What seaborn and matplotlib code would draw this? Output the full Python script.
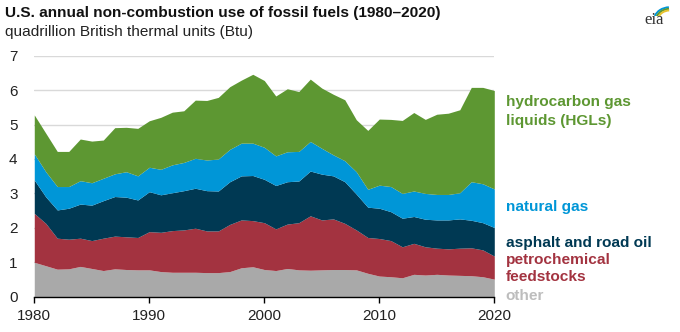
import numpy as np
import pandas as pd
import matplotlib
matplotlib.use("Agg")
import matplotlib.pyplot as plt
import seaborn as sns
from matplotlib.patches import Arc

years = list(range(1980, 2021))

other = [1.00, 0.90, 0.80, 0.81, 0.88, 0.82, 0.76, 0.81, 0.79, 0.78,
         0.78, 0.73, 0.71, 0.71, 0.71, 0.70, 0.70, 0.73, 0.84, 0.87,
         0.79, 0.76, 0.82, 0.78, 0.77, 0.78, 0.79, 0.79, 0.78, 0.68,
         0.60, 0.58, 0.55, 0.65, 0.63, 0.65, 0.63, 0.62, 0.61, 0.58, 0.51]
petrochemical = [1.42, 1.23, 0.90, 0.86, 0.82, 0.81, 0.94, 0.95, 0.95, 0.94,
                 1.11, 1.14, 1.21, 1.23, 1.28, 1.21, 1.21, 1.37, 1.39, 1.34,
                 1.36, 1.21, 1.29, 1.37, 1.58, 1.45, 1.47, 1.34, 1.16, 1.04,
                 1.09, 1.05, 0.90, 0.90, 0.82, 0.76, 0.76, 0.79, 0.81, 0.78, 0.67]
asphalt = [0.97, 0.77, 0.82, 0.90, 0.99, 1.03, 1.09, 1.15, 1.15, 1.09,
           1.16, 1.09, 1.10, 1.14, 1.16, 1.17, 1.16, 1.24, 1.28, 1.31,
           1.26, 1.26, 1.23, 1.21, 1.30, 1.33, 1.25, 1.21, 1.04, 0.88,
           0.88, 0.84, 0.83, 0.78, 0.80, 0.82, 0.84, 0.85, 0.80, 0.79, 0.83]
natural_gas = [0.76, 0.73, 0.68, 0.63, 0.68, 0.65, 0.65, 0.66, 0.74, 0.70,
               0.71, 0.74, 0.81, 0.82, 0.87, 0.89, 0.93, 0.94, 0.95, 0.94,
               0.93, 0.86, 0.87, 0.86, 0.86, 0.75, 0.61, 0.61, 0.65, 0.52,
               0.67, 0.73, 0.72, 0.74, 0.75, 0.74, 0.74, 0.76, 1.12, 1.13, 1.12]
hgl = [1.13, 1.12, 1.02, 1.02, 1.21, 1.21, 1.11, 1.34, 1.29, 1.38,
       1.35, 1.51, 1.53, 1.50, 1.69, 1.73, 1.79, 1.82, 1.83, 2.00,
       1.94, 1.74, 1.83, 1.74, 1.81, 1.75, 1.76, 1.77, 1.51, 1.71,
       1.92, 1.95, 2.12, 2.28, 2.15, 2.33, 2.36, 2.41, 2.74, 2.80, 2.86]

series_names = ["other", "petrochemical feedstocks", "asphalt and road oil",
                "natural gas", "hydrocarbon gas liquids (HGLs)"]
colors = ["#a9a9a9", "#a33340", "#003953", "#0096d7", "#5d9732"]
label_colors = ["#bdbdbd", "#a33340", "#003953", "#0096d7", "#5d9732"]

df = pd.DataFrame({"year": years, "other": other, "petro": petrochemical,
                   "asphalt": asphalt, "ng": natural_gas, "hgl": hgl})

sns.set_theme(style="white")
plt.rcParams["font.family"] = ["Liberation Sans", "DejaVu Sans"]

fig = plt.figure(figsize=(6.8, 3.32), dpi=100)
ax = fig.add_axes([0.0504, 0.1063, 0.6765, 0.7259])

ax.stackplot(df["year"], df["other"], df["petro"], df["asphalt"], df["ng"], df["hgl"],
             colors=colors, linewidth=0)

ax.set_xlim(1980, 2020)
ax.set_ylim(0, 7)
ax.set_yticks(range(0, 8))
ax.set_xticks(range(1980, 2021, 10))
for y in range(1, 8):
    ax.axhline(y, color="#d9d9d9", linewidth=1.0, zorder=0)
ax.set_axisbelow(True)
sns.despine(ax=ax, left=True, top=True, right=True)
ax.spines["bottom"].set_color("#000000")
ax.spines["bottom"].set_linewidth(1.0)
ax.spines["bottom"].set_zorder(5)
ax.tick_params(axis="x", length=4, width=1, color="#000000", pad=5,
               labelsize=11, labelcolor="#222222", direction="out", bottom=True)
ax.tick_params(axis="y", length=0, pad=12, labelsize=11, labelcolor="#222222")
ax.set_xlabel("")
ax.set_ylabel("")

fig.text(0.008, 0.962, "U.S. annual non-combustion use of fossil fuels (1980\u20132020)",
         fontsize=11.1, fontweight="bold", color="#111111", va="center", ha="left")
fig.text(0.008, 0.905, "quadrillion British thermal units (Btu)",
         fontsize=11.1, color="#222222", va="center", ha="left")

lx = 505.5 / 680
def fy(py):
    return 1 - py / 332

lfs = 11.1
fig.text(lx, fy(101.7), "hydrocarbon gas", color=label_colors[4], fontsize=lfs, fontweight="bold", va="center")
fig.text(lx, fy(120.7), "liquids (HGLs)", color=label_colors[4], fontsize=lfs, fontweight="bold", va="center")
fig.text(lx, fy(206.7), "natural gas", color=label_colors[3], fontsize=lfs, fontweight="bold", va="center")
fig.text(lx, fy(242.7), "asphalt and road oil", color=label_colors[2], fontsize=lfs, fontweight="bold", va="center")
fig.text(lx, fy(260.0), "petrochemical", color=label_colors[1], fontsize=lfs, fontweight="bold", va="center")
fig.text(lx, fy(277.3), "feedstocks", color=label_colors[1], fontsize=lfs, fontweight="bold", va="center")
fig.text(lx, fy(295.7), "other", color=label_colors[0], fontsize=lfs, fontweight="bold", va="center")

# eia logo
fig.text(654 / 680, fy(20), "eia", family=["Liberation Serif", "DejaVu Serif"],
         fontsize=12, color="#333333", ha="center", va="center")
lax = fig.add_axes([640 / 680, fy(16), 32 / 680, 12 / 332])
lax.set_xlim(0, 32); lax.set_ylim(0, 12); lax.axis("off")
for r, c in [(16, "#0096d7"), (14, "#5d9732"), (12, "#e8c22c")]:
    lax.add_patch(Arc((30, -4), 2 * r, 2 * r * 0.8, theta1=95, theta2=165, color=c, linewidth=1.4))

fig.savefig("out.png", dpi=100)
